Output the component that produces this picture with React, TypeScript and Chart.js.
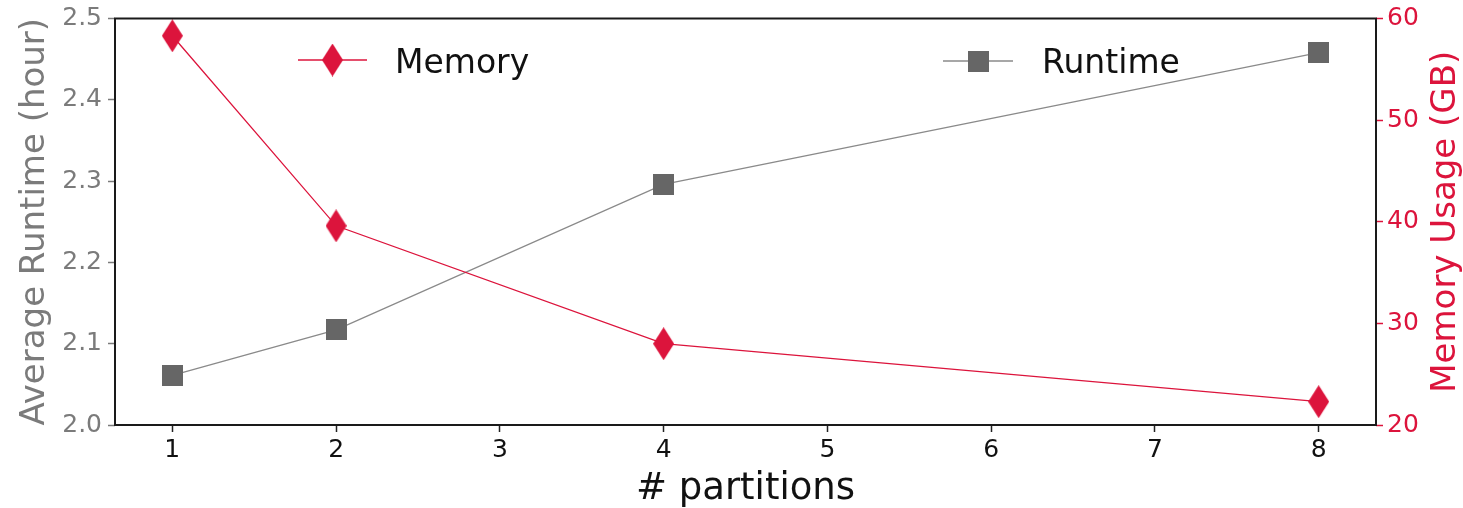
import React, { useEffect, useRef } from 'react';
import { Chart, registerables } from 'chart.js';

Chart.register(...registerables);

// ---- data ----
const partitions = [1, 2, 4, 8];
const runtimeHours = [2.061, 2.117, 2.296, 2.458];
const memoryGB = [58.3, 39.6, 28.0, 22.3];

const xTickValues = [1, 2, 3, 4, 5, 6, 7, 8];
const runtimeTickValues = [2.0, 2.1, 2.2, 2.3, 2.4, 2.5];
const memoryTickValues = [20, 30, 40, 50, 60];

const xTitle = '# partitions';
const leftTitle = 'Average Runtime (hour)';
const rightTitle = 'Memory Usage (GB)';
const memoryLabel = 'Memory';
const runtimeLabel = 'Runtime';

// ---- styles ----
const FONT = '"DejaVu Sans", "Liberation Sans", sans-serif';
const CRIMSON = '#DC143C';
const GRAY_MARK = '#666666';
const GRAY_LINE = '#8a8a8a';
const GRAY_TEXT = '#7b7b7b';
const BLACK = '#111111';

function makeDiamond(): HTMLCanvasElement {
  const c = document.createElement('canvas');
  c.width = 21;
  c.height = 33;
  const g = c.getContext('2d')!;
  g.fillStyle = CRIMSON;
  g.beginPath();
  g.moveTo(10.5, 0);
  g.lineTo(21, 16.5);
  g.lineTo(10.5, 33);
  g.lineTo(0, 16.5);
  g.closePath();
  g.fill();
  return c;
}

function makeSquare(): HTMLCanvasElement {
  const c = document.createElement('canvas');
  c.width = 21;
  c.height = 21;
  const g = c.getContext('2d')!;
  g.fillStyle = GRAY_MARK;
  g.fillRect(0, 0, 21, 21);
  return c;
}

export default function App() {
  const ref = useRef<HTMLCanvasElement | null>(null);

  useEffect(() => {
    const canvas = ref.current;
    if (!canvas) return;
    const diamond = makeDiamond();
    const square = makeSquare();

    const legendItems = [
      { ds: 0, x0: 298, x1: 367, y: 60, tx: 395, ty: 72.5 },
      { ds: 1, x0: 943, x1: 1013, y: 61, tx: 1042, ty: 72.5 },
    ];

    const decor = {
      id: 'decor',
      afterDraw(chart: any) {
        const { ctx, chartArea } = chart;
        const { left, top, right, bottom } = chartArea;
        ctx.save();
        // frame
        ctx.strokeStyle = '#1a1a1a';
        ctx.lineWidth = 2;
        ctx.strokeRect(left, top, right - left, bottom - top);
        // right title (reads bottom to top)
        ctx.font = `34px ${FONT}`;
        ctx.fillStyle = CRIMSON;
        ctx.textAlign = 'center';
        ctx.textBaseline = 'alphabetic';
        ctx.translate(chart.width - 8, (top + bottom) / 2);
        ctx.rotate(-Math.PI / 2);
        ctx.fillText(rightTitle, 0, 0);
        ctx.restore();

        // legends
        legendItems.forEach((it) => {
          const d = chart.data.datasets[it.ds];
          ctx.save();
          ctx.strokeStyle = d.borderColor;
          ctx.lineWidth = d.borderWidth;
          ctx.beginPath();
          ctx.moveTo(it.x0, it.y);
          ctx.lineTo(it.x1, it.y);
          ctx.stroke();
          const img = d.pointStyle as HTMLCanvasElement;
          const cx = (it.x0 + it.x1) / 2;
          ctx.drawImage(img, cx - img.width / 2, it.y - img.height / 2);
          ctx.font = `33px ${FONT}`;
          ctx.fillStyle = BLACK;
          ctx.textAlign = 'left';
          ctx.textBaseline = 'alphabetic';
          ctx.fillText(d.label, it.tx, it.ty);
          ctx.restore();
        });
      },
    };

    const chart = new Chart(canvas, {
      type: 'line',
      data: {
        datasets: [
          {
            label: memoryLabel,
            data: partitions.map((x, i) => ({ x, y: memoryGB[i] })),
            yAxisID: 'yRight',
            borderColor: CRIMSON,
            backgroundColor: CRIMSON,
            borderWidth: 1.3,
            pointStyle: diamond as any,
            pointRadius: 10,
            pointBorderWidth: 0,
            tension: 0,
          },
          {
            label: runtimeLabel,
            data: partitions.map((x, i) => ({ x, y: runtimeHours[i] })),
            yAxisID: 'yLeft',
            borderColor: GRAY_LINE,
            backgroundColor: GRAY_MARK,
            borderWidth: 1.3,
            pointStyle: square as any,
            pointRadius: 10,
            pointBorderWidth: 0,
            tension: 0,
          },
        ],
      },
      options: {
        animation: false,
        responsive: false,
        devicePixelRatio: 1,
        layout: { padding: { top: 16, left: 0, right: 0, bottom: 0 } },
        plugins: {
          legend: { display: false },
          tooltip: { enabled: false },
        },
        scales: {
          x: {
            type: 'linear',
            position: 'bottom',
            min: 0.65,
            max: 8.35,
            afterBuildTicks: (s: any) => {
              s.ticks = xTickValues.map((v) => ({ value: v }));
            },
            afterFit: (s: any) => {
              s.height = 83;
            },
            ticks: {
              autoSkip: false,
              maxRotation: 0,
              padding: 6,
              color: BLACK,
              font: { family: FONT, size: 25, lineHeight: 1 },
              callback: (v: any) => String(v),
            },
            grid: {
              display: true,
              drawOnChartArea: false,
              drawTicks: true,
              tickLength: 7,
              tickWidth: 1.5,
              tickColor: '#222222',
            },
            border: { display: false },
            title: {
              display: true,
              text: xTitle,
              color: BLACK,
              font: { family: FONT, size: 37, lineHeight: 1 },
              padding: { top: 0, bottom: 0 },
            },
          },
          yLeft: {
            type: 'linear',
            position: 'left',
            min: 2.0,
            max: 2.5,
            afterBuildTicks: (s: any) => {
              s.ticks = runtimeTickValues.map((v) => ({ value: v }));
            },
            afterFit: (s: any) => {
              s.width = 115;
            },
            ticks: {
              padding: 6,
              color: GRAY_TEXT,
              font: { family: FONT, size: 25, lineHeight: 1 },
              callback: (v: any) => Number(v).toFixed(1),
            },
            grid: {
              display: true,
              drawOnChartArea: false,
              drawTicks: true,
              tickLength: 7,
              tickWidth: 1.5,
              tickColor: GRAY_TEXT,
            },
            border: { display: false },
            title: {
              display: true,
              text: leftTitle,
              color: GRAY_TEXT,
              font: { family: FONT, size: 34, lineHeight: 1 },
              padding: { top: 18, bottom: 0 },
            },
          },
          yRight: {
            type: 'linear',
            position: 'right',
            min: 20,
            max: 60,
            afterBuildTicks: (s: any) => {
              s.ticks = memoryTickValues.map((v) => ({ value: v }));
            },
            afterFit: (s: any) => {
              s.width = 87;
            },
            ticks: {
              padding: 4,
              color: CRIMSON,
              font: { family: FONT, size: 25, lineHeight: 1 },
              callback: (v: any) => String(v),
            },
            grid: {
              display: true,
              drawOnChartArea: false,
              drawTicks: true,
              tickLength: 7,
              tickWidth: 1.5,
              tickColor: CRIMSON,
            },
            border: { display: false },
            title: { display: false },
          },
        },
      } as any,
      plugins: [decor],
    });

    return () => {
      chart.destroy();
    };
  }, []);

  return (
    <div style={{ position: 'absolute', left: 0, top: 0, width: 1463, height: 508, background: '#ffffff' }}>
      <canvas ref={ref} width={1463} height={508} style={{ display: 'block', width: 1463, height: 508 }} />
    </div>
  );
}
